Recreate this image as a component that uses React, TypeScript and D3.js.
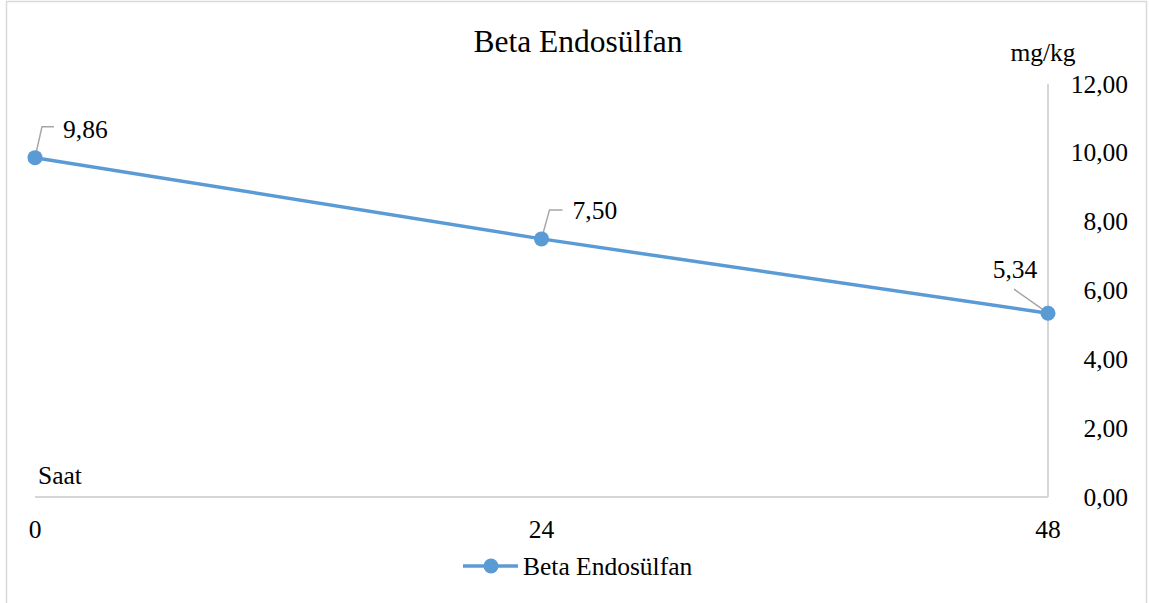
import React from 'react';
import * as d3 from 'd3';

// chart data
const hours = [0, 24, 48];
const values = [9.86, 7.5, 5.34];
const yTicks = [0, 2, 4, 6, 8, 10, 12];
const seriesName = 'Beta Endosülfan';
const chartTitle = 'Beta Endosülfan';
const xTitle = 'Saat';
const yTitle = 'mg/kg';

const W = 1149;
const H = 603;
const FONT = '"Liberation Serif", "Times New Roman", serif';
const BLUE = '#5b9bd5';

const fmt = (v: number) => v.toFixed(2).replace('.', ',');

export default function App() {
  const x = d3.scaleLinear().domain([0, 48]).range([35, 1048]);
  const y = d3.scaleLinear().domain([0, 12]).range([497, 84]);

  const line = d3.line<number>()
      .x((d, i) => x(hours[i]))
      .y((d) => y(d));

  // label placement: offsets of leader & text relative to point
  const labelDefs = [
    {lead: [[0, 0], [7, -31], [19, -31]], tx: 28, ty: -20, anchor: 'start'},
    {lead: [[0, 0], [8, -29], [21, -29]], tx: 31, ty: -20, anchor: 'start'},
    {lead: [[0, 0], [-34, -24]], tx: -33, ty: -35, anchor: 'middle'},
  ];

  return (
    <svg width={W} height={H}
      style={{position: 'absolute', left: 0, top: 0, background: '#fff'}}
      fontFamily={FONT}>
      <rect x={6.5} y={1.5} width={1140} height={H + 10}
        fill="none" stroke="#d9d9d9" strokeWidth={1.5} />

      <text x={578} y={52} fontSize={31.5} textAnchor="middle"
        fill="#000">{chartTitle}</text>

      {/* axes */}
      <line x1={x(0)} x2={x(48)} y1={y(0)} y2={y(0)}
        stroke="#c8c8c8" strokeWidth={1.5} />
      <line x1={x(48)} x2={x(48)} y1={y(0)} y2={y(12)}
        stroke="#c8c8c8" strokeWidth={1.5} />

      {yTicks.map((t) => (
        <text key={t} x={1128} y={y(t) + 8.5} fontSize={25.5}
          textAnchor="end" fill="#000">{fmt(t)}</text>
      ))}
      {hours.map((h) => (
        <text key={h} x={x(h)} y={538} fontSize={25.5}
          textAnchor="middle" fill="#000">{h}</text>
      ))}

      <text x={38} y={484} fontSize={25.5} fill="#000">{xTitle}</text>
      <text x={1043} y={61} fontSize={25.5} textAnchor="middle"
        fill="#000">{yTitle}</text>

      {/* series */}
      <path d={line(values) || ''} fill="none" stroke={BLUE}
        strokeWidth={3.5} strokeLinejoin="round" />

      {values.map((v, i) => {
        const px = x(hours[i]);
        const py = y(v);
        const def = labelDefs[i];
        const pts = def.lead.map((p) => `${px + p[0]},${py + p[1]}`).join(' ');
        return (
          <g key={i}>
            <polyline points={pts} fill="none" stroke="#a6a6a6"
              strokeWidth={1.5} />
            <circle cx={px} cy={py} r={7.5} fill={BLUE} />
            <text x={px + def.tx} y={py + def.ty} fontSize={25.5}
              textAnchor={def.anchor as any} fill="#000">{fmt(v)}</text>
          </g>
        );
      })}

      {/* legend */}
      <line x1={463} x2={518} y1={566} y2={566} stroke={BLUE}
        strokeWidth={3.5} />
      <circle cx={491} cy={566} r={7.5} fill={BLUE} />
      <text x={523} y={575} fontSize={25.5} fill="#000">{seriesName}</text>
    </svg>
  );
}
